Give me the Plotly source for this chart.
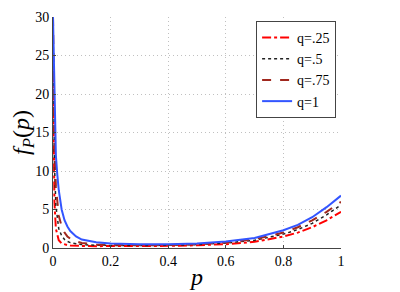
import plotly.graph_objects as go

p = [0, 0.005, 0.01, 0.015, 0.02, 0.03, 0.04, 0.05, 0.06, 0.08, 0.1, 0.15, 0.2,
     0.3, 0.4, 0.5, 0.6, 0.7, 0.8, 0.85, 0.9, 0.95, 1.0]

f_q025 = [25, 6, 2.5, 1.5, 1.0, 0.6, 0.45, 0.38, 0.33, 0.28, 0.26, 0.24, 0.24,
          0.25, 0.28, 0.36, 0.5, 0.8, 1.5, 2.0, 2.7, 3.6, 4.7]
f_q05 = [30, 11, 5.5, 3.5, 2.5, 1.6, 1.1, 0.85, 0.7, 0.55, 0.45, 0.35, 0.32,
         0.32, 0.35, 0.45, 0.65, 1.0, 1.8, 2.4, 3.2, 4.3, 5.6]
f_q075 = [30, 14, 8, 5.5, 4.2, 2.8, 2.0, 1.5, 1.2, 0.85, 0.65, 0.45, 0.4,
          0.38, 0.4, 0.5, 0.75, 1.15, 2.0, 2.7, 3.6, 4.7, 6.0]
f_q1 = [30, 18, 12, 9.5, 7.5, 5.0, 3.6, 2.8, 2.2, 1.5, 1.1, 0.75, 0.6,
        0.5, 0.5, 0.6, 0.85, 1.3, 2.3, 3.0, 4.0, 5.3, 6.8]

names = ["q=.25", "q=.5", "q=.75", "q=1"]
x_ticks = [0, 0.2, 0.4, 0.6, 0.8, 1]
y_ticks = [0, 5, 10, 15, 20, 25, 30]

styles = [
    dict(color="#FF0000", dash="dashdot", width=2),
    dict(color="#222222", dash="dot", width=1.5),
    dict(color="#A0281E", dash="dash", width=2),
    dict(color="#3355FF", dash="solid", width=2),
]

fig = go.Figure()
for name, ys, st in zip(names, [f_q025, f_q05, f_q075, f_q1], styles):
    fig.add_trace(go.Scatter(x=p, y=ys, mode="lines", name=name, line=st))

font = "Liberation Serif"
fig.update_layout(
    width=392, height=284,
    margin=dict(l=45, r=59, t=9, b=44, autoexpand=False),
    paper_bgcolor="white", plot_bgcolor="white",
    font=dict(family=font, size=14, color="black"),
    showlegend=True,
    legend=dict(x=0.983, y=0.983, xanchor="right", yanchor="top",
                bordercolor="#444", borderwidth=1, bgcolor="white",
                font=dict(family=font, size=14), tracegroupgap=0,
                itemwidth=30),
    xaxis=dict(range=[0, 1], tickvals=x_ticks, showgrid=True,
               gridcolor="#c0c0c0", griddash="1px,3px", showline=True,
               linecolor="#444", ticks="inside", ticklen=3, tickcolor="#444",
               zeroline=False, automargin=False,
               tickfont=dict(family=font, size=14),
               title=dict(text="<i>p</i>", font=dict(family=font, size=24),
                          standoff=0)),
    yaxis=dict(range=[0, 30], tickvals=y_ticks, showgrid=True,
               gridcolor="#c0c0c0", griddash="1px,3px", showline=True,
               linecolor="#444", ticks="inside", ticklen=3, tickcolor="#444",
               zeroline=False, automargin=False,
               tickfont=dict(family=font, size=14),
               title=dict(text="<i>f</i><sub><i>P</i></sub>(<i>p</i>)",
                          font=dict(family=font, size=24), standoff=2)),
)

fig.write_html("out.html")
